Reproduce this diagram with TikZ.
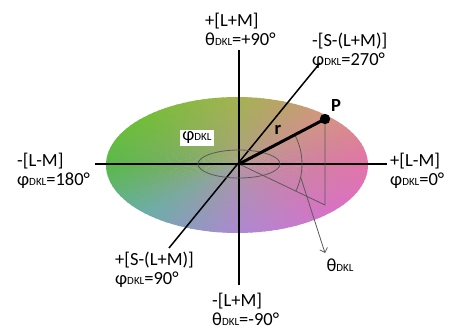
\documentclass[tikz,border=0pt]{standalone}
\usepackage{fontspec}
\setmainfont{Carlito}
\usetikzlibrary{calc, positioning, fadings, arrows.meta}

\definecolor{wheel0}{RGB}{228,116,170}
\definecolor{wheel1}{RGB}{214,148,132}
\definecolor{wheel2}{RGB}{162,180,78}
\definecolor{wheel3}{RGB}{114,190,58}
\definecolor{wheel4}{RGB}{88,186,74}
\definecolor{wheel5}{RGB}{108,174,170}
\definecolor{wheel6}{RGB}{174,136,212}
\definecolor{wheel7}{RGB}{218,114,198}
\definecolor{wheelmid}{RGB}{172,156,146}
\definecolor{guide}{RGB}{90,90,90}

\tikzfading[name=centerfade, inner color=transparent!30, outer color=transparent!100]

\newcommand{\dkl}{{\fontsize{11}{11}\selectfont DKL}}

\begin{document}
\begin{tikzpicture}[x=1pt, y=1pt]
    \def\thetaR{63}

    \tikzstyle{axis} = [draw=black, line width=1.5pt]
    \tikzstyle{guideline} = [draw=guide, line width=0.8pt]
    \tikzstyle{label} = [inner sep=0pt, anchor=north west, align=left, font=\fontsize{18.5}{19}\selectfont]

    \useasboundingbox (-239,-166) rectangle (210,164);

    % colour wheel
    \begin{scope}[shift={(-2,-1)}]
        \foreach \a in {0,3,...,357} {
            \pgfmathtruncatemacro{\seg}{floor(\a/45)}
            \pgfmathtruncatemacro{\nxt}{mod(\seg+1,8)}
            \pgfmathtruncatemacro{\pct}{100-100*(\a-45*\seg)/45}
            \fill[wheel\seg!\pct!wheel\nxt] (0,0) -- (\a:131 and 68) -- (\a+3.6:131 and 68) -- cycle;
        }
        \fill[wheelmid, path fading=centerfade] (0,0) ellipse [x radius=131, y radius=68];
    \end{scope}

    \coordinate (O) at (0,0);
    \coordinate (lmMinus) at (-144,0);
    \coordinate (lmPlus) at (148,0);
    \coordinate (lumPlus) at (0,114);
    \coordinate (lumMinus) at (0,-121);
    \coordinate (sPlus) at (-70,-84);
    \coordinate (sMinus) at (81,101);
    \coordinate (P) at (86,45);
    \coordinate (F) at (86,-41);

    % axes
    \draw[axis] (lmMinus) -- (lmPlus);
    \draw[axis] (lumPlus) -- (lumMinus);
    \draw[axis] (sPlus) -- (sMinus);

    % azimuth and elevation guides
    \draw[guideline] (O) ellipse [x radius=41, y radius=14];
    \draw[guideline] (O) -- (F) -- (P);
    \draw[guideline] (27.6:\thetaR) arc (27.6:-25.5:\thetaR);
    \coordinate (thetaStart) at (-12:\thetaR);
    \coordinate (thetaTip) at (86,-89);
    \draw[guideline, -{Straight Barb[length=4pt, width=8pt]}] (thetaStart) -- (thetaTip);

    % radius vector
    \draw[line width=3pt] (O) -- (P);
    \fill (P) circle (5.2);
    \node (pLabel) [font=\fontsize{18.5}{18.5}\selectfont\bfseries] at (97,59) {P};
    \node (rLabel) [font=\fontsize{18.5}{18.5}\selectfont\bfseries] at (39,34) {r};
    \node (phiLabel) [fill=white, inner sep=2pt, font=\fontsize{18.5}{18.5}\selectfont] at (-42,26) {φ\dkl};
    \node (thetaLabel) [inner sep=0pt, font=\fontsize{18.5}{18.5}\selectfont] at (101,-101) {θ\dkl};

    % axis labels
    \node (topLabel) [label] at (-34,151) {+[L+M]\\θ\dkl=+90°};
    \node (sMinusLabel) [label] at (73,131) {-[S-(L+M)]\\φ\dkl=270°};
    \node (leftLabel) [label] at (-222,11) {-[L-M]\\φ\dkl=180°};
    \node (rightLabel) [label] at (151,11) {+[L-M]\\φ\dkl=0°};
    \node (sPlusLabel) [label] at (-124,-88) {+[S-(L+M)]\\φ\dkl=90°};
    \node (bottomLabel) [label] at (-27,-129) {-[L+M]\\θ\dkl=-90°};
\end{tikzpicture}
\end{document}
